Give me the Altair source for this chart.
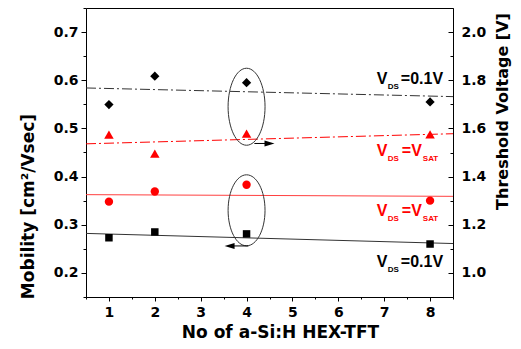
import altair as alt
import pandas as pd

# ---------------- data ----------------
n_tft = [1, 2, 4, 8]
mob_sat = [0.348, 0.369, 0.383, 0.350]      # red circles (left axis)
mob_01 = [0.273, 0.285, 0.281, 0.260]       # black squares (left axis)
vth_01 = [1.699, 1.817, 1.790, 1.710]       # black diamonds (right axis)
vth_sat = [1.574, 1.495, 1.578, 1.575]      # red triangles (right axis)

fit_x = [0.5, 8.5]
fit_mob_sat = [0.3625, 0.359]
fit_mob_01 = [0.282, 0.261]
fit_vth_01 = [1.768, 1.732]
fit_vth_sat = [1.536, 1.578]

x_ticks = [1, 2, 3, 4, 5, 6, 7, 8]
x_minor = [0.5, 1.5, 2.5, 3.5, 4.5, 5.5, 6.5, 7.5, 8.5]
left_ticks = [0.2, 0.3, 0.4, 0.5, 0.6, 0.7]
left_minor = [0.15, 0.25, 0.35, 0.45, 0.55, 0.65, 0.75]
right_ticks = [1.0, 1.2, 1.4, 1.6, 1.8, 2.0]
right_minor = [0.9, 1.1, 1.3, 1.5, 1.7, 1.9, 2.1]

ellipse_x = [4.0]
ellipse_upper_y = [1.69]
ellipse_lower_y = [0.330]
arrow_up_x = [4.17, 4.5]
arrow_up_y = [1.5375]
arrow_lo_x = [3.63, 4.04]
arrow_lo_y = [0.256]

label_x = [6.84]
lab_up_black_y = [1.783]
lab_up_red_y = [1.4875]
lab_lo_red_y = [0.31875]
lab_lo_black_y = [0.2125]

XDOM = [0.5, 8.5]
LDOM = [0.15, 0.75]
RDOM = [0.9, 2.1]

# ---------------- helpers ----------------
LBL = dict(labelFont="DejaVu Sans", labelFontWeight="bold", labelFontSize=14,
           labelColor="black", tickColor="black", tickWidth=1, domain=False, grid=False)
TTL = dict(titleFont="DejaVu Sans", titleFontWeight="bold",
           titleColor="black", titleBaseline="alphabetic", titleAlign="center")


def xenc(axis=None):
    return alt.X("x:Q", scale=alt.Scale(domain=XDOM, nice=False, zero=False), axis=axis)


def x2enc():
    return alt.X2("x2:Q")


def yenc(side, axis=None):
    dom = LDOM if side == "L" else RDOM
    return alt.Y("y:Q", scale=alt.Scale(domain=dom, nice=False, zero=False), axis=axis)


x_major_axis = alt.Axis(values=x_ticks, format="d", orient="bottom", tickSize=4, labelPadding=4,
                        title="No of a-Si:H HEX-TFT", titleFontSize=17, titleX=194, titleY=40,
                        **LBL, **TTL)
x_minor_axis = alt.Axis(values=x_minor, orient="bottom", tickSize=2, labels=False, title=None,
                        tickColor="black", domain=False, grid=False)
left_major_axis = alt.Axis(values=left_ticks, format=".1f", orient="left", tickSize=5, labelPadding=3,
                           title="Mobility [cm²/Vsec]", titleFontSize=17, titleAngle=270,
                           titleX=-53, titleY=198, **LBL, **TTL)
left_minor_axis = alt.Axis(values=left_minor, orient="left", tickSize=3, labels=False, title=None,
                           tickColor="black", domain=False, grid=False)
right_major_axis = alt.Axis(values=right_ticks, format=".1f", orient="right", offset=-5, tickSize=5,
                            labelPadding=8, title="Threshold Voltage [V]", titleFontSize=16,
                            titleAngle=270, titleX=59, titleY=103, **LBL, **TTL)
right_minor_axis = alt.Axis(values=right_minor, orient="right", offset=-3, tickSize=3, labels=False,
                            title=None, tickColor="black", domain=False, grid=False)

DASHDOT = [10, 3, 2, 3]


def fit_line(vals, side, color, dash=None, yaxis=None, xaxis=None):
    df = pd.DataFrame({"x": fit_x, "y": vals})
    kw = dict(color=color, strokeWidth=1)
    if dash is not None:
        kw["strokeDash"] = dash
    return alt.Chart(df).mark_line(**kw).encode(x=xenc(xaxis), y=yenc(side, yaxis))


def pts(vals, side, shape, color, size, yaxis=None, xaxis=None):
    df = pd.DataFrame({"x": n_tft, "y": vals})
    return alt.Chart(df).mark_point(shape=shape, filled=True, color=color, size=size, opacity=1).encode(
        x=xenc(xaxis), y=yenc(side, yaxis))


def ellipse(yvals, side, a, size):
    k = round(0.5523 * a, 3)
    path = (f"M0,-1 C{k},-1 {a},-0.552 {a},0 C{a},0.552 {k},1 0,1 "
            f"C{-k},1 {-a},0.552 {-a},0 C{-a},-0.552 {-k},-1 0,-1 Z")
    df = pd.DataFrame({"x": ellipse_x, "y": yvals})
    return alt.Chart(df).mark_point(shape=path, filled=False, stroke="#333333", strokeWidth=1,
                                    size=size, opacity=1).encode(x=xenc(), y=yenc(side))


def arrow(xs, yv, side, head_at, path):
    df = pd.DataFrame({"x": [xs[0]], "x2": [xs[1]], "y": yv})
    shaft = alt.Chart(df).mark_rule(color="black", strokeWidth=1).encode(
        x=xenc(), x2=x2enc(), y=yenc(side))
    hdf = pd.DataFrame({"x": [head_at], "y": yv})
    head = alt.Chart(hdf).mark_point(shape=path, filled=True, color="black", size=100, opacity=1).encode(
        x=xenc(), y=yenc(side))
    return [shaft, head]


def txt(yv, side, text, dx, dy, size, color):
    df = pd.DataFrame({"x": label_x, "y": yv})
    return alt.Chart(df).mark_text(text=text, dx=dx, dy=dy, fontSize=size, font="Liberation Sans",
                                   fontWeight="bold", color=color, align="left",
                                   baseline="alphabetic").encode(x=xenc(), y=yenc(side))


RED = "#ff0000"
layers = [
    fit_line(fit_vth_01, "R", "#333333", DASHDOT, yaxis=right_minor_axis),
    fit_line(fit_vth_sat, "R", RED, DASHDOT),
    fit_line(fit_mob_sat, "L", "#ff4040"),
    fit_line(fit_mob_01, "L", "#333333", yaxis=left_minor_axis, xaxis=x_minor_axis),
    ellipse(ellipse_upper_y, "R", 0.48, 5929),
    ellipse(ellipse_lower_y, "L", 0.52, 5041),
]
layers += arrow(arrow_up_x, arrow_up_y, "R", 4.5, "M1,0 L-1,-0.6 L-1,0.6 Z")
layers += arrow(arrow_lo_x, arrow_lo_y, "L", 3.63, "M-1,0 L1,-0.6 L1,0.6 Z")
layers += [
    pts(vth_01, "R", "diamond", "black", 85, yaxis=right_major_axis),
    pts(vth_sat, "R", "triangle-up", RED, 90),
    pts(mob_sat, "L", "circle", RED, 70),
    pts(mob_01, "L", "square", "black", 56, yaxis=left_major_axis, xaxis=x_major_axis),
    # upper black label  V_DS=0.1V
    txt(lab_up_black_y, "R", "V", 0, 0, 16, "black"),
    txt(lab_up_black_y, "R", "DS", 11, 5, 8, "black"),
    txt(lab_up_black_y, "R", "=0.1V", 24, 0, 16, "black"),
    # upper red label  V_DS=V_SAT
    txt(lab_up_red_y, "R", "V", 0, 0, 16, RED),
    txt(lab_up_red_y, "R", "DS", 11, 5, 8, RED),
    txt(lab_up_red_y, "R", "=V", 25, 0, 16, RED),
    txt(lab_up_red_y, "R", "SAT", 46, 5, 8, RED),
    # lower red label
    txt(lab_lo_red_y, "L", "V", 0, 0, 16, RED),
    txt(lab_lo_red_y, "L", "DS", 11, 5, 8, RED),
    txt(lab_lo_red_y, "L", "=V", 25, 0, 16, RED),
    txt(lab_lo_red_y, "L", "SAT", 46, 5, 8, RED),
    # lower black label
    txt(lab_lo_black_y, "L", "V", 0, 0, 16, "black"),
    txt(lab_lo_black_y, "L", "DS", 11, 5, 8, "black"),
    txt(lab_lo_black_y, "L", "=0.1V", 24, 0, 16, "black"),
]

chart = alt.layer(*layers).resolve_scale(x="independent", y="independent").properties(
    width=367, height=289,
    autosize=alt.AutoSizeParams(type="none"),
    padding={"left": 78, "top": 0, "right": 60, "bottom": 44},
    background="white",
).configure_view(stroke="black", strokeWidth=1)

chart.save("out.html", embed_options={"renderer": "svg", "actions": False})
